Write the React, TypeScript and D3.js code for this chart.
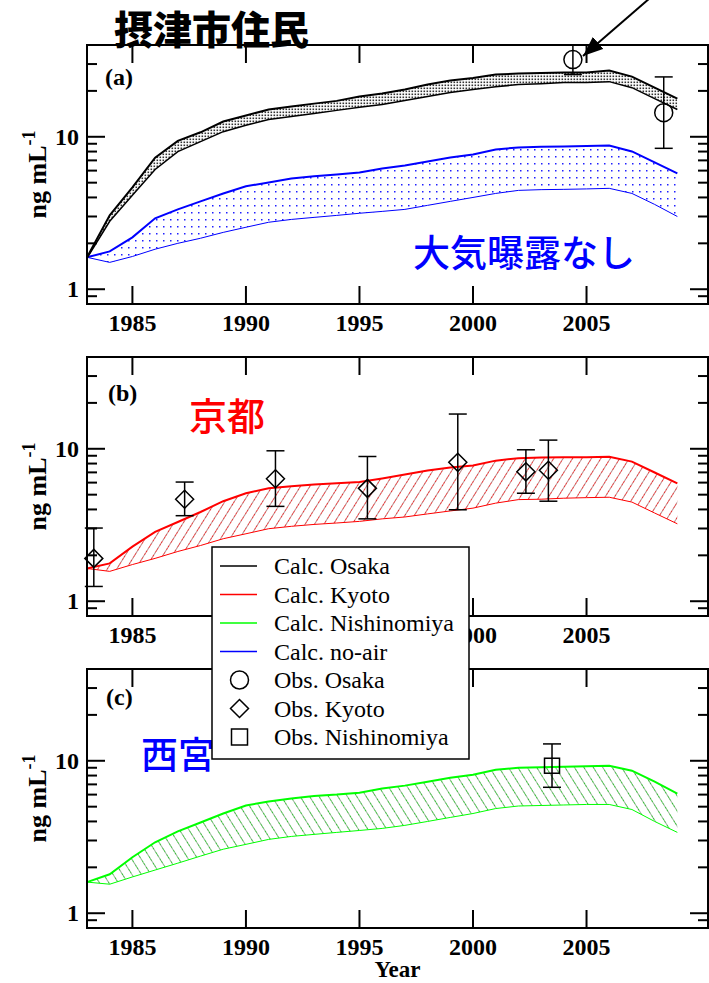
import React from "react";
import * as d3 from "d3";

// calc years
const years = [1983, 1984, 1985, 1986, 1987, 1988, 1989, 1990, 1991, 1992, 1993, 1994, 1995,
  1996, 1997, 1998, 1999, 2000, 2001, 2002, 2003, 2004, 2005, 2006, 2007, 2008, 2009];

// (a) Osaka band
const osakaHi = [1.62, 3.05, 4.66, 7.3, 9.4, 10.7, 12.6, 13.8, 15.1, 15.8, 16.5, 17.2, 18.4,
  19.2, 20.4, 22.0, 23.4, 24.3, 25.6, 26.0, 26.2, 26.4, 26.4, 27.2, 24.8, 21.0, 17.8];
const osakaLo = [1.6, 2.79, 4.13, 6.1, 8.0, 9.3, 10.8, 11.9, 13.0, 13.6, 14.2, 14.9, 15.6,
  16.3, 17.3, 18.4, 19.5, 20.4, 21.3, 22.0, 22.3, 22.7, 22.7, 23.0, 21.0, 17.8, 15.1];
// (a) no-air band
const noairHi = [1.62, 1.77, 2.19, 2.92, 3.34, 3.77, 4.25, 4.73, 5.02, 5.33, 5.5, 5.66, 5.84,
  6.2, 6.49, 6.89, 7.32, 7.66, 8.26, 8.51, 8.6, 8.64, 8.7, 8.77, 8.01, 6.79, 5.75];
const noairLo = [1.62, 1.5, 1.64, 1.83, 2.0, 2.16, 2.36, 2.55, 2.75, 2.87, 2.96, 3.05, 3.15,
  3.24, 3.34, 3.55, 3.77, 4.0, 4.25, 4.45, 4.5, 4.52, 4.55, 4.59, 4.25, 3.6, 3.0];
// (b) Kyoto band
const kyotoHi = [1.64, 1.77, 2.28, 2.85, 3.31, 3.85, 4.53, 5.11, 5.5, 5.67, 5.84, 5.94, 6.06,
  6.39, 6.78, 7.2, 7.53, 7.76, 8.36, 8.68, 8.75, 8.8, 8.8, 8.87, 8.24, 6.99, 5.93];
const kyotoLo = [1.64, 1.57, 1.74, 1.91, 2.12, 2.32, 2.57, 2.77, 2.99, 3.1, 3.19, 3.26, 3.34,
  3.47, 3.57, 3.74, 3.91, 4.08, 4.4, 4.64, 4.67, 4.74, 4.78, 4.81, 4.47, 3.79, 3.22];
// (c) Nishinomiya band
const nishiHi = [1.6, 1.8, 2.33, 2.92, 3.44, 3.94, 4.51, 5.09, 5.4, 5.65, 5.87, 6.0, 6.18,
  6.57, 6.87, 7.29, 7.75, 8.1, 8.74, 9.0, 9.06, 9.14, 9.2, 9.28, 8.61, 7.29, 6.09];
const nishiLo = [1.6, 1.55, 1.73, 1.92, 2.13, 2.37, 2.63, 2.83, 3.05, 3.19, 3.29, 3.39, 3.49,
  3.6, 3.77, 4.0, 4.25, 4.51, 4.86, 5.05, 5.09, 5.13, 5.17, 5.17, 4.79, 4.0, 3.39];

// observations
const obsOsakaYear = [2004.4, 2008.4];
const obsOsakaVal = [32.1, 14.4];
const obsOsakaLo = [25.6, 8.4];
const obsOsakaHi = [40, 24.7];

const obsKyotoYear = [1983.3, 1987.3, 1991.3, 1995.35, 1999.33, 2002.33, 2003.32];
const obsKyotoVal = [1.91, 4.67, 6.36, 5.5, 8.15, 7.06, 7.23];
const obsKyotoLo = [1.25, 3.64, 4.19, 3.47, 3.98, 5.11, 4.53];
const obsKyotoHi = [3.02, 6.05, 9.7, 8.9, 16.9, 9.85, 11.4];

const obsNishiYear = [2003.48];
const obsNishiVal = [9.28];
const obsNishiLo = [6.7];
const obsNishiHi = [12.9];

const xTicks = [1985, 1990, 1995, 2000, 2005];
const yMajor = [1, 10];
const yMinor = [0.9, 2, 3, 4, 5, 6, 7, 8, 9, 20, 30];

const legendLabels = ["Calc. Osaka", "Calc. Kyoto", "Calc. Nishinomiya", "Calc. no-air",
  "Obs. Osaka", "Obs. Kyoto", "Obs. Nishinomiya"];

const SERIF = "'Liberation Serif', 'Times New Roman', serif";
const CJK = "'Noto Sans CJK JP', sans-serif";

const W = 709, H = 983;
const L = 87, R = 708, PH = 259;
const tops = [45, 357, 669];

const x = d3.scaleLinear().domain([1983, 2010.35]).range([L, R]);
const yFor = (top: number) => d3.scaleLog().domain([0.8, 40]).range([top + PH, top]);

function Band({ y, hi, lo, fill, color, wHi, wLo }: any) {
  const area = d3.area<number>()
    .x((_, i) => x(years[i]))
    .y0((_, i) => y(lo[i]))
    .y1((_, i) => y(hi[i]));
  const line = (arr: number[]) => d3.line<number>().x((_, i) => x(years[i])).y(d => y(d))(arr) || "";
  return (
    <g>
      <path d={area(hi) || ""} fill={fill} stroke="none" />
      <path d={line(lo)} fill="none" stroke={color} strokeWidth={wLo} />
      <path d={line(hi)} fill="none" stroke={color} strokeWidth={wHi} />
    </g>
  );
}

function ErrBars({ y, xs, vals, los, his, shape }: any) {
  return (
    <g stroke="#000" strokeWidth={1.5} fill="none">
      {xs.map((yr: number, i: number) => {
        const cx = x(yr), cy = y(vals[i]);
        const top = y(his[i]), bot = y(los[i]);
        return (
          <g key={i}>
            <line x1={cx} x2={cx} y1={top} y2={bot} />
            <line x1={cx - 9} x2={cx + 9} y1={top} y2={top} />
            <line x1={cx - 9} x2={cx + 9} y1={bot} y2={bot} />
            {shape === "circle" && <circle cx={cx} cy={cy} r={9} fill="none" />}
            {shape === "diamond" && (
              <path d={`M${cx},${cy - 9}L${cx + 9},${cy}L${cx},${cy + 9}L${cx - 9},${cy}Z`} fill="none" />
            )}
            {shape === "square" && <rect x={cx - 7.5} y={cy - 7.5} width={15} height={15} fill="none" />}
          </g>
        );
      })}
    </g>
  );
}

function Axes({ top, y, showYear }: any) {
  const bot = top + PH;
  return (
    <g>
      <rect x={L} y={top} width={R - L} height={PH} fill="none" stroke="#000" strokeWidth={2} />
      <g stroke="#000" strokeWidth={2}>
        {xTicks.map(t => (
          <g key={t}>
            <line x1={x(t)} x2={x(t)} y1={bot} y2={bot - 18} />
            <line x1={x(t)} x2={x(t)} y1={top} y2={top + 18} />
          </g>
        ))}
        {yMajor.map(t => (
          <g key={t}>
            <line x1={L} x2={L + 18} y1={y(t)} y2={y(t)} />
            <line x1={R} x2={R - 18} y1={y(t)} y2={y(t)} />
          </g>
        ))}
        {yMinor.map(t => (
          <g key={t}>
            <line x1={L} x2={L + 10} y1={y(t)} y2={y(t)} />
            <line x1={R} x2={R - 10} y1={y(t)} y2={y(t)} />
          </g>
        ))}
      </g>
      <g fontFamily={SERIF} fontWeight="bold" fontSize={24} fill="#000">
        {xTicks.map(t => (
          <text key={t} x={x(t)} y={bot + 27} textAnchor="middle">{t}</text>
        ))}
        {yMajor.map(t => (
          <text key={t} x={79} y={y(t) + 8} textAnchor="end">{t}</text>
        ))}
        <text transform={`translate(46,${top + PH / 2}) rotate(-90)`} textAnchor="middle" fontSize={26}>
          ng mL<tspan dy={-11} fontSize={18}>-1</tspan>
        </text>
        {showYear && <text x={(L + R) / 2} y={977} textAnchor="middle" fontSize={23}>Year</text>}
      </g>
    </g>
  );
}

export default function App() {
  const ya = yFor(tops[0]);
  const yb = yFor(tops[1]);
  const yc = yFor(tops[2]);
  const lx0 = 220, lx1 = 257, ltx = 274, ly0 = 566, lstep = 28.5;
  const legendColors = ["#000000", "#ff0000", "#00ff00", "#0000ff"];
  return (
    <svg width={W} height={H} style={{ position: "absolute", left: 0, top: 0, background: "#fff" }}>
      <defs>
        <pattern id="osakaDots" width={3} height={3} patternUnits="userSpaceOnUse">
          <rect width={3} height={3} fill="#fff" />
          <rect x={0.5} y={0.5} width={1.6} height={1.6} fill="#333" />
        </pattern>
        <pattern id="blueDots" width={7} height={7} patternUnits="userSpaceOnUse">
          <rect x={2} y={2} width={1.5} height={1.5} fill="#2020ff" />
        </pattern>
        <pattern id="redHatch" width={8} height={8} patternUnits="userSpaceOnUse" patternTransform="rotate(32)">
          <line x1={0} y1={0} x2={0} y2={8} stroke="#905050" strokeWidth={1.3} />
          <line x1={0} y1={0} x2={0} y2={8} stroke="#ff0000" strokeWidth={1.3} strokeDasharray="2 3" />
        </pattern>
        <pattern id="greenHatch" width={8} height={8} patternUnits="userSpaceOnUse" patternTransform="rotate(-32)">
          <line x1={0} y1={0} x2={0} y2={8} stroke="#608a60" strokeWidth={1.3} />
          <line x1={0} y1={0} x2={0} y2={8} stroke="#00c000" strokeWidth={1.3} strokeDasharray="2 3" />
        </pattern>
        <marker id="arrowHead" viewBox="0 0 20 16" refX={20} refY={8} markerWidth={20} markerHeight={16}
          markerUnits="userSpaceOnUse" orient="auto">
          <path d="M0,0L20,8L0,16Z" fill="#000" />
        </marker>
      </defs>

      {/* panel (a) */}
      <Band y={ya} hi={noairHi} lo={noairLo} fill="url(#blueDots)" color="#0000ff" wHi={2} wLo={1} />
      <Band y={ya} hi={osakaHi} lo={osakaLo} fill="url(#osakaDots)" color="#000" wHi={2} wLo={1.5} />
      <ErrBars y={ya} xs={obsOsakaYear} vals={obsOsakaVal} los={obsOsakaLo} his={obsOsakaHi} shape="circle" />
      <Axes top={tops[0]} y={ya} />
      <text x={105} y={85} fontFamily={SERIF} fontWeight="bold" fontSize={24}>(a)</text>
      <text x={413} y={267} fontFamily={CJK} fontWeight={500} fontSize={37} fill="#0000ff">大気曝露なし</text>

      {/* panel (b) */}
      <Band y={yb} hi={kyotoHi} lo={kyotoLo} fill="url(#redHatch)" color="#ff0000" wHi={2} wLo={1} />
      <ErrBars y={yb} xs={obsKyotoYear} vals={obsKyotoVal} los={obsKyotoLo} his={obsKyotoHi} shape="diamond" />
      <Axes top={tops[1]} y={yb} />
      <text x={108} y={401} fontFamily={SERIF} fontWeight="bold" fontSize={24}>(b)</text>
      <text x={189} y={430} fontFamily={CJK} fontWeight={500} fontSize={38} fill="#ff0000">京都</text>

      {/* panel (c) */}
      <Band y={yc} hi={nishiHi} lo={nishiLo} fill="url(#greenHatch)" color="#00ff00" wHi={2} wLo={1} />
      <ErrBars y={yc} xs={obsNishiYear} vals={obsNishiVal} los={obsNishiLo} his={obsNishiHi} shape="square" />
      <Axes top={tops[2]} y={yc} showYear />
      <text x={106} y={705} fontFamily={SERIF} fontWeight="bold" fontSize={24}>(c)</text>
      <text x={141} y={769} fontFamily={CJK} fontWeight={500} fontSize={37} fill="#0000ff">西宮</text>

      {/* title and arrow */}
      <text x={114} y={44} fontFamily={CJK} fontWeight={900} fontSize={39} fill="#000">摂津市住民</text>
      <line x1={665} y1={-15} x2={583} y2={56} stroke="#000" strokeWidth={2} markerEnd="url(#arrowHead)" />

      {/* legend */}
      <g>
        <rect x={212} y={547} width={257} height={212} fill="#fff" stroke="#000" strokeWidth={1.5} />
        {legendLabels.map((lab, i) => {
          const cy = ly0 + i * lstep;
          const cx = (lx0 + lx1) / 2 + 1;
          return (
            <g key={lab}>
              {i < 4 && <line x1={lx0} x2={lx1} y1={cy} y2={cy} stroke={legendColors[i]} strokeWidth={1.5} />}
              {i === 4 && <circle cx={cx} cy={cy} r={9} fill="none" stroke="#000" strokeWidth={1.5} />}
              {i === 5 && (
                <path d={`M${cx},${cy - 9}L${cx + 9},${cy}L${cx},${cy + 9}L${cx - 9},${cy}Z`}
                  fill="none" stroke="#000" strokeWidth={1.5} />
              )}
              {i === 6 && <rect x={cx - 8} y={cy - 8} width={16} height={16} fill="none" stroke="#000" strokeWidth={1.5} />}
              <text x={ltx} y={cy + 8} fontFamily={SERIF} fontSize={24} fill="#000">{lab}</text>
            </g>
          );
        })}
      </g>
    </svg>
  );
}
